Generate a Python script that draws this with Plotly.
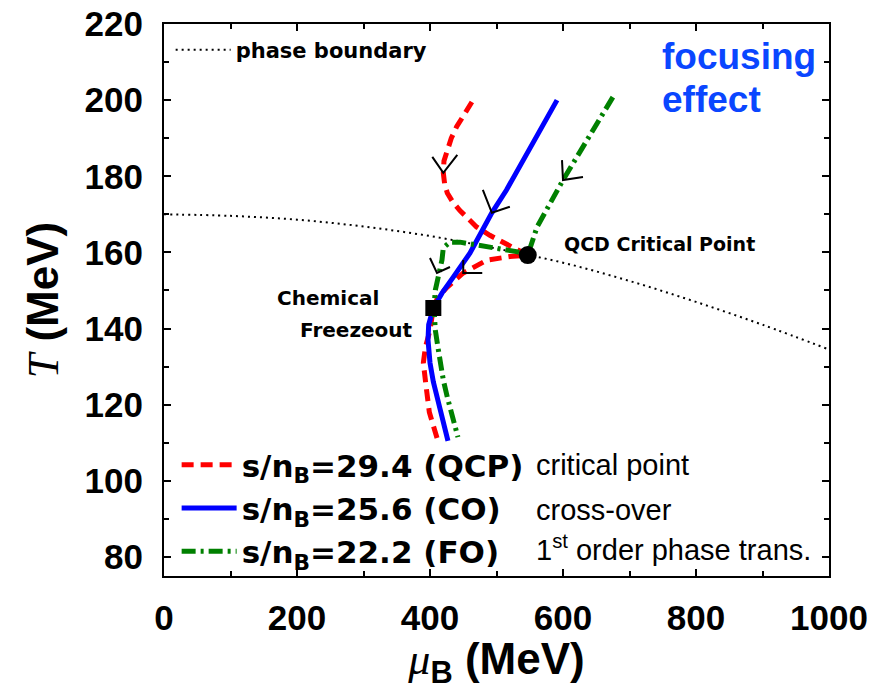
import plotly.graph_objects as go

# ---------------- data ----------------
pb_mu = [0, 100, 200, 300, 400, 500, 600, 700, 800, 900, 1000]
pb_T = [170, 169.6, 168.6, 166.8, 164.3, 161.0, 157.3, 152.5, 147.0, 141.0, 134.5]

qcp_mu = [463, 452, 440, 432, 426, 421, 420, 422, 426, 434, 445, 456, 470, 490, 510, 530, 547,
          520, 486, 450, 426, 412, 405, 400, 393, 390, 394, 399, 411]
qcp_T = [199.5, 196.5, 193, 190, 187, 184, 180.9, 178, 175.6, 173.3, 171, 169, 166.7, 164.5, 162.5, 160.8, 159.3,
         158.9, 158, 154.6, 150.9, 148.3, 145.4, 139.6, 135, 131, 125, 118, 111]

co_mu = [591, 551, 515, 493, 480, 460, 435, 418, 405, 398, 397, 400, 405, 411, 419, 427]
co_T = [200, 187.7, 176.4, 170.4, 166.4, 159.8, 153.5, 149.3, 145.4, 141, 137, 131, 126, 122, 116, 110.5]

fo_mu = [675, 600, 561, 547, 530, 516, 500, 486, 465, 445, 430, 420, 418, 412, 408, 406,
         408, 412, 415, 420, 426, 434, 442]
fo_T = [200.8, 179, 166.7, 159.3, 160.2, 160.6, 161, 161.4, 162.3, 162.7, 162.7, 161.2, 158, 153.5, 150.1, 145.4,
        139.6, 135, 131, 126.5, 122, 116.5, 111.5]

cp_mu, cp_T = [547], [159.3]          # QCD critical point
fz_mu, fz_T = [405], [145.4]          # chemical freezeout

# arrow tips (data) and arm offsets (screen px, +y down)
arrow_mu = [420, 493, 600, 410.5, 450]
arrow_T = [180.9, 170.4, 179.0, 154.6, 154.6]
arm1 = [(-11, -16), (-9, -23), (-1, -20), (-7, -15), (0, -13)]
arm2 = [(14, -18), (18, -6), (20, -3), (13, -6), (19, 0)]

legend_names = ["s/n<sub>B</sub>=29.4 (QCP)", "s/n<sub>B</sub>=25.6 (CO)", "s/n<sub>B</sub>=22.2 (FO)"]
descriptions = ["critical point", "cross-over", "1<sup>st</sup> order phase trans."]
desc_T = [104.2, 92.3, 82.4]

x_ticks = [0, 200, 400, 600, 800, 1000]
y_ticks = [80, 100, 120, 140, 160, 180, 200, 220]

# ---------------- layout geometry ----------------
W, H = 886, 690
M = dict(l=164, r=57, t=24, b=114)
x_range = [0, 1000]
y_range = [75, 220]
px_per_x = (W - M["l"] - M["r"]) / (x_range[1] - x_range[0])
px_per_y = (H - M["t"] - M["b"]) / (y_range[1] - y_range[0])

# ---------------- figure ----------------
fig = go.Figure()

fig.add_trace(go.Scatter(x=pb_mu, y=pb_T, mode="lines", name="phase boundary",
                         line=dict(color="black", width=2, dash="2px,4px", shape="spline"),
                         legend="legend"))

fig.add_trace(go.Scatter(x=qcp_mu, y=qcp_T, mode="lines", name=legend_names[0],
                         line=dict(color="#ff0000", width=5, dash="12px,7px"),
                         legend="legend2"))
fig.add_trace(go.Scatter(x=co_mu, y=co_T, mode="lines", name=legend_names[1],
                         line=dict(color="#0000ff", width=5),
                         legend="legend2"))
fig.add_trace(go.Scatter(x=fo_mu, y=fo_T, mode="lines", name=legend_names[2],
                         line=dict(color="#008000", width=5, dash="14px,5px,3px,5px"),
                         legend="legend2"))

fig.add_trace(go.Scatter(x=cp_mu, y=cp_T, mode="markers", showlegend=False,
                         marker=dict(symbol="circle", size=18, color="black")))
fig.add_trace(go.Scatter(x=fz_mu, y=fz_T, mode="markers", showlegend=False,
                         marker=dict(symbol="square", size=16, color="black")))

# arrows as open chevrons
ax_, ay_ = [], []
for m, t, a1, a2 in zip(arrow_mu, arrow_T, arm1, arm2):
    ax_ += [m + a1[0] / px_per_x, m, m + a2[0] / px_per_x, None]
    ay_ += [t - a1[1] / px_per_y, t, t - a2[1] / px_per_y, None]
fig.add_trace(go.Scatter(x=ax_, y=ay_, mode="lines", showlegend=False,
                         line=dict(color="black", width=2)))

lab_font = dict(family="DejaVu Sans", size=19, color="black", weight="bold")
fig.add_annotation(x=598, y=162.2, text="QCD Critical Point", showarrow=False,
                   xanchor="left", yanchor="middle", font=lab_font)
fig.add_annotation(x=247, y=148, text="Chemical", showarrow=False,
                   xanchor="center", yanchor="middle", font=dict(lab_font, size=20))
fig.add_annotation(x=289, y=139.6, text="Freezeout", showarrow=False,
                   xanchor="center", yanchor="middle", font=dict(lab_font, size=20))

blue_font = dict(family="Liberation Sans", size=37, color="#0a46ff", weight="bold")
fig.add_annotation(x=746, y=211.4, text="focusing", showarrow=False,
                   xanchor="left", yanchor="middle", font=blue_font)
fig.add_annotation(x=746, y=200.2, text="effect", showarrow=False,
                   xanchor="left", yanchor="middle", font=blue_font)

for txt, yv in zip(descriptions, desc_T):
    fig.add_annotation(x=556, y=yv, text=txt, showarrow=False,
                       xanchor="left", yanchor="middle",
                       font=dict(family="Liberation Sans", size=29, color="black"))

axis_common = dict(showline=True, linecolor="black", linewidth=2, mirror="allticks",
                   ticks="inside", ticklen=7, tickwidth=2, tickcolor="black",
                   showgrid=False, zeroline=False, automargin=False,
                   tickfont=dict(family="Liberation Sans", size=35, color="black", weight="bold"))

title_font = dict(family="Liberation Sans", size=44, color="black", weight="bold")
fig.update_layout(
    width=W, height=H,
    margin=M,
    plot_bgcolor="white", paper_bgcolor="white",
    xaxis=dict(range=x_range, tickvals=x_ticks, ticklabelstandoff=10,
               minor=dict(dtick=100, ticks="inside", ticklen=5, tickwidth=2, tickcolor="black"),
               title=dict(text="<span style='font-family:Liberation Serif;font-weight:normal'><i>μ</i></span><sub>B</sub> (MeV)",
                          font=title_font, standoff=6),
               **axis_common),
    yaxis=dict(range=y_range, tickvals=y_ticks, ticklabelstandoff=12,
               minor=dict(dtick=10, ticks="inside", ticklen=5, tickwidth=2, tickcolor="black"),
               title=dict(text="<span style='font-family:Liberation Serif;font-weight:normal'><i>T</i></span> (MeV)",
                          font=title_font, standoff=12),
               **axis_common),
    legend=dict(x=0.01, y=0.99, xanchor="left", yanchor="top", bgcolor="rgba(0,0,0,0)",
                font=dict(family="DejaVu Sans", size=21, color="black", weight="bold"),
                itemwidth=55),
    legend2=dict(x=0.019, y=0.25, xanchor="left", yanchor="top", bgcolor="rgba(0,0,0,0)",
                 font=dict(family="DejaVu Sans", size=31, color="black", weight="bold"),
                 itemwidth=55, tracegroupgap=0),
)

fig.write_html("out.html")
